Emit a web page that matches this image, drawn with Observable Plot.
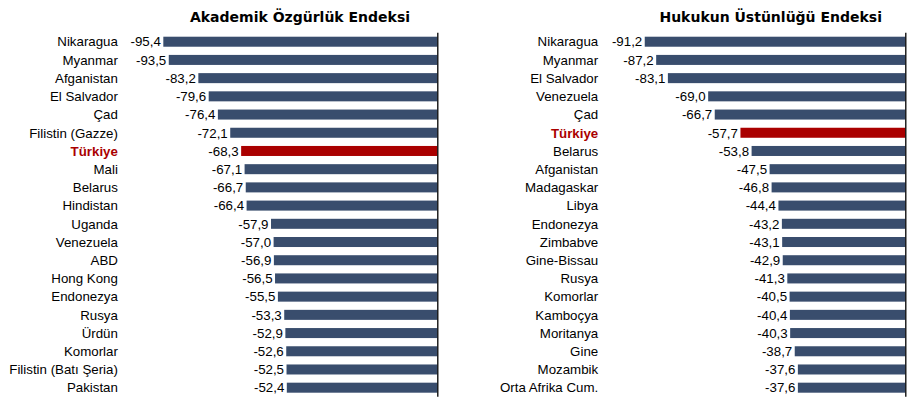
<!DOCTYPE html>
<html>
<head>
<meta charset="utf-8">
<script src="https://cdn.jsdelivr.net/npm/d3@7"></script>
<script src="https://cdn.jsdelivr.net/npm/@observablehq/plot@0.6"></script>
<style>
  html, body { margin: 0; padding: 0; background: #fff; }
  #wrap { display: flex; width: 912px; height: 404px; overflow: hidden; }
  .panel { width: 456px; position: relative; }
  .title { height: 28px; position: relative; }
  .title span { position: absolute; top: 8.7px; transform: translateX(-50%); white-space: nowrap;
    font-family: "DejaVu Sans", Verdana, sans-serif; font-weight: bold; font-size: 14px; color: #000; }
  svg { display: block; }
</style>
</head>
<body>
<div id="wrap"></div>
<script>
const akademikCountries = ["Nikaragua","Myanmar","Afganistan","El Salvador","Çad","Filistin (Gazze)","Türkiye","Mali","Belarus","Hindistan","Uganda","Venezuela","ABD","Hong Kong","Endonezya","Rusya","Ürdün","Komorlar","Filistin (Batı Şeria)","Pakistan"];
const akademikValues = [-95.4,-93.5,-83.2,-79.6,-76.4,-72.1,-68.3,-67.1,-66.7,-66.4,-57.9,-57.0,-56.9,-56.5,-55.5,-53.3,-52.9,-52.6,-52.5,-52.4];

const hukukCountries = ["Nikaragua","Myanmar","El Salvador","Venezuela","Çad","Türkiye","Belarus","Afganistan","Madagaskar","Libya","Endonezya","Zimbabve","Gine-Bissau","Rusya","Komorlar","Kamboçya","Moritanya","Gine","Mozambik","Orta Afrika Cum."];
const hukukValues = [-91.2,-87.2,-83.1,-69.0,-66.7,-57.7,-53.8,-47.5,-46.8,-44.4,-43.2,-43.1,-42.9,-41.3,-40.5,-40.4,-40.3,-38.7,-37.6,-37.6];

const titles = ["Akademik Özgürlük Endeksi", "Hukukun Üstünlüğü Endeksi"];
const highlight = "Türkiye";

const NAVY = "#394d6d";
const RED = "#aa0000";
const fmt = v => v.toFixed(1).replace(".", ",");

function panel(title, titleX, countries, values, mLeft, mRight, labelDx) {
  const data = countries.map((c, i) => ({country: c, value: values[i]}));
  const div = document.createElement("div");
  div.className = "panel";
  const t = document.createElement("div");
  t.className = "title";
  const s = document.createElement("span");
  s.textContent = title;
  s.style.left = titleX + "px";
  t.appendChild(s);
  div.appendChild(t);
  const chart = Plot.plot({
    width: 456,
    height: 376,
    marginTop: 4.7,
    marginBottom: 7.3,
    marginLeft: mLeft,
    marginRight: mRight,
    style: {fontFamily: "'Liberation Sans', Arial, sans-serif", background: "#fff"},
    x: {domain: [-100, 0], axis: null},
    y: {domain: countries, axis: null, paddingInner: 0.45, paddingOuter: 0.22, round: false},
    marks: [
      Plot.barX(data, {y: "country", x1: 0, x2: "value", fill: d => d.country === highlight ? RED : NAVY}),
      Plot.text(data, {y: "country", x: "value", text: d => fmt(d.value), textAnchor: "end", dx: -3, fontSize: 13.3, fill: "#000"}),
      Plot.text(data.filter(d => d.country !== highlight), {y: "country", frameAnchor: "left", text: "country", textAnchor: "end", dx: labelDx, fontSize: 13.3, fill: "#000"}),
      Plot.text(data.filter(d => d.country === highlight), {y: "country", frameAnchor: "left", text: "country", textAnchor: "end", dx: labelDx, fontSize: 13.3, fontWeight: "bold", fill: RED}),
      Plot.ruleX([0], {stroke: "#000", strokeWidth: 1.3})
    ]
  });
  div.appendChild(chart);
  return div;
}

const wrap = document.getElementById("wrap");
wrap.appendChild(panel(titles[0], 300, akademikCountries, akademikValues, 150.1, 18.7, -32.7));
wrap.appendChild(panel(titles[1], 314.7, hukukCountries, hukukValues, 163.6, 6.7, -21.9));
</script>
</body>
</html>
